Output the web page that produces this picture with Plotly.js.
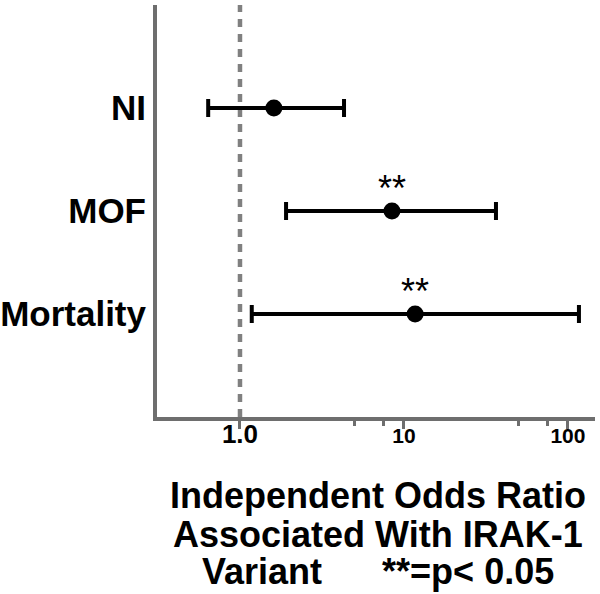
<!DOCTYPE html>
<html>
<head>
<meta charset="utf-8">
<script src="https://cdn.plot.ly/plotly-3.0.1.min.js"></script>
<style>
  html, body { margin: 0; padding: 0; background: #fff; }
  #graph { width: 600px; height: 594px; }
</style>
</head>
<body>
<div id="graph"></div>
<script>
// Данные: отношения шансов и доверительные интервалы
const outcomes = ['Mortality', 'MOF', 'NI'];
const rowPos = [0, 1, 2];
const oddsRatio = [11.7, 8.45, 1.61];
const ciLow = [1.18, 1.91, 0.64];
const ciHigh = [116.7, 36.4, 4.31];
const significant = [true, true, false];

const xTickVals = [1, 10, 100];
const xTickText = ['<span style="font-size:26px">1.0</span>', '10', '100'];
const xMinorVals = [5, 7.5, 50, 75];

const titleLines = [
    'Independent Odds Ratio',
    'Associated With IRAK-1',
    'Variant\u00A0\u00A0\u00A0\u00A0\u00A0\u00A0**=p<\u00A00.05'
];

const FONT = '"Liberation Sans", Arial, sans-serif';
const GREY = '#6e6e6e';

const trace = {
    x: oddsRatio,
    y: rowPos,
    type: 'scatter',
    mode: 'markers',
    marker: { color: '#000', size: 17 },
    error_x: {
        type: 'data',
        symmetric: false,
        array: oddsRatio.map((v, i) => ciHigh[i] - v),
        arrayminus: oddsRatio.map((v, i) => v - ciLow[i]),
        color: '#000',
        thickness: 4,
        width: 9
    },
    hoverinfo: 'skip',
    showlegend: false
};

// Звёздочки над значимыми результатами
const annotations = [];
oddsRatio.forEach((v, i) => {
    if (significant[i]) {
        annotations.push({
            x: Math.log10(v), y: rowPos[i], xref: 'x', yref: 'y',
            text: '**', showarrow: false, yshift: 23,
            font: { family: FONT, size: 36, color: '#000' }
        });
    }
});

// Подпись оси X в три строки
const titleY = [-0.1917, -0.284, -0.376];
titleLines.forEach((t, i) => {
    annotations.push({
        x: 0.505, y: titleY[i], xref: 'paper', yref: 'paper',
        xanchor: 'center', yanchor: 'middle',
        text: '<b>' + t + '</b>', showarrow: false,
        font: { family: FONT, size: 36, color: '#000' }
    });
});

const layout = {
    width: 600,
    height: 594,
    margin: { l: 157, r: 5, t: 5, b: 177 },
    paper_bgcolor: '#fff',
    plot_bgcolor: '#fff',
    font: { family: FONT, color: '#000' },
    xaxis: {
        type: 'log',
        range: [-0.506, 2.165],
        tickvals: xTickVals,
        ticktext: xTickText,
        tickfont: { family: FONT, size: 21, weight: 'bold', color: '#000' },
        ticks: 'outside',
        ticklen: 8,
        tickwidth: 3,
        tickcolor: GREY,
        ticklabelstandoff: -11,
        minor: { tickvals: xMinorVals, ticks: 'outside', ticklen: 5, tickwidth: 3, tickcolor: GREY },
        showgrid: false,
        zeroline: false,
        showline: true,
        linecolor: GREY,
        linewidth: 4
    },
    yaxis: {
        range: [-1, 3],
        tickvals: rowPos,
        ticktext: outcomes,
        tickfont: { family: FONT, size: 35, weight: 'bold', color: '#000' },
        ticks: '',
        ticklabelstandoff: 0,
        showgrid: false,
        zeroline: false,
        showline: true,
        linecolor: GREY,
        linewidth: 4
    },
    shapes: [{
        type: 'line', xref: 'x', yref: 'paper',
        x0: 1, x1: 1, y0: 0, y1: 1,
        line: { color: '#808080', width: 4.5, dash: '8px,7px' },
        layer: 'below'
    }],
    annotations: annotations
};

Plotly.newPlot('graph', [trace], layout, { displayModeBar: false, staticPlot: true });
</script>
</body>
</html>
